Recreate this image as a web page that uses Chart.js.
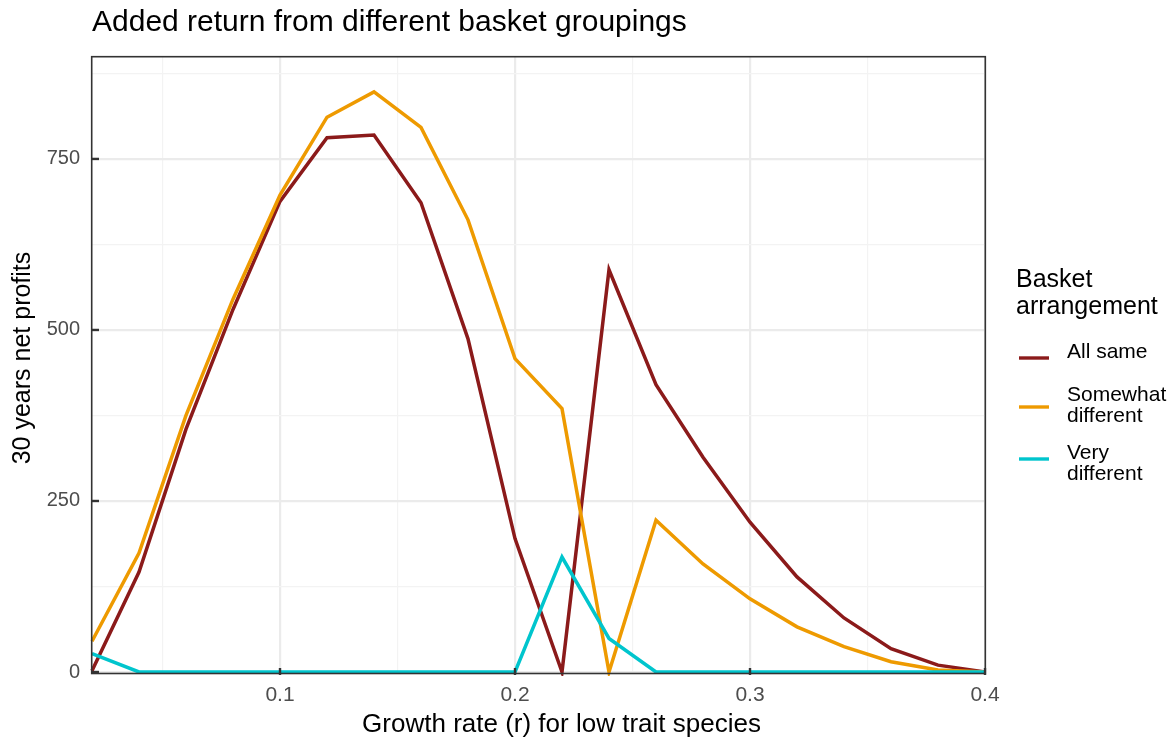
<!DOCTYPE html>
<html>
<head>
<meta charset="utf-8">
<script src="https://cdn.jsdelivr.net/npm/chart.js@4.4.1/dist/chart.umd.min.js"></script>
<style>
  html, body { margin: 0; padding: 0; background: #ffffff; }
  #wrap { width: 1175px; height: 738px; position: relative; }
</style>
</head>
<body>
<div id="wrap"><canvas id="c" width="1175" height="738"></canvas></div>
<script>
// ---- data ----
const growthRates = [0.02, 0.04, 0.06, 0.08, 0.10, 0.12, 0.14, 0.16, 0.18, 0.20,
                     0.22, 0.24, 0.26, 0.28, 0.30, 0.32, 0.34, 0.36, 0.38, 0.40];
const allSame = [2, 146, 355, 530, 688, 781, 785, 686, 487, 195,
                 0, 588, 420, 314, 219, 139, 79, 34, 10, 0];
const somewhatDifferent = [45, 174, 375, 545, 697, 811, 848, 796, 661, 458,
                           385, 0, 222, 158, 107, 66, 37, 15, 3, 0];
const veryDifferent = [27, 0, 0, 0, 0, 0, 0, 0, 0, 0,
                       168, 49, 0, 0, 0, 0, 0, 0, 0, 0];
const seriesNames = ['All same', 'Somewhat\ndifferent', 'Very\ndifferent'];
const seriesColors = ['#8B1A1A', '#EE9A00', '#00C5CD'];
const xGridTicks = [0.05, 0.10, 0.15, 0.20, 0.25, 0.30, 0.35, 0.40];
const xLabelTicks = [0.1, 0.2, 0.3, 0.4];
const yGridTicks = [0, 125, 250, 375, 500, 625, 750, 875];
const yLabelTicks = [0, 250, 500, 750];
const titleText = 'Added return from different basket groupings';
const xTitle = 'Growth rate (r) for low trait species';
const yTitle = '30 years net profits';
const legendTitle = ['Basket', 'arrangement'];

// ---- helpers ----
const FONT = '"Liberation Sans", Arial, Helvetica, sans-serif';
const near = (v, arr) => arr.some(a => Math.abs(a - v) < 1e-6);

const makeSeries = (vals) => growthRates.map((x, i) => ({ x: x, y: vals[i] }));

const decor = {
  id: 'decor',
  afterDatasetsDraw(chart) {
    const { ctx, chartArea: a, scales } = chart;
    ctx.save();
    ctx.strokeStyle = '#333333';
    ctx.lineWidth = 1.6;
    ctx.strokeRect(a.left - 0.3, a.top - 0.3, a.right - a.left + 0.6, a.bottom - a.top + 1.8);
    ctx.lineWidth = 2.4;
    xLabelTicks.forEach(v => {
      const px = scales.x.getPixelForValue(v);
      ctx.beginPath(); ctx.moveTo(px, a.bottom - 4); ctx.lineTo(px, a.bottom + 3); ctx.stroke();
    });
    yLabelTicks.forEach(v => {
      const py = scales.y.getPixelForValue(v);
      ctx.beginPath(); ctx.moveTo(a.left, py); ctx.lineTo(a.left + 7, py); ctx.stroke();
    });
    ctx.restore();
  },
  afterDraw(chart) {
    const { ctx, chartArea: a } = chart;
    ctx.save();
    ctx.fillStyle = '#000000';
    ctx.textBaseline = 'alphabetic';
    // main title
    ctx.textAlign = 'left';
    ctx.font = '30px ' + FONT;
    ctx.fillText(titleText, a.left, 31);
    // x axis title
    ctx.textAlign = 'center';
    ctx.font = '26px ' + FONT;
    ctx.fillText(xTitle, 561.5, 732);
    // y axis title
    ctx.save();
    ctx.translate(30, 358);
    ctx.rotate(-Math.PI / 2);
    ctx.font = '25px ' + FONT;
    ctx.fillText(yTitle, 0, 0);
    ctx.restore();
    // legend title
    ctx.textAlign = 'left';
    ctx.font = '25px ' + FONT;
    ctx.fillText(legendTitle[0], 1016, 287);
    ctx.fillText(legendTitle[1], 1016, 314);
    // legend items
    const keyY = [358, 407, 459];
    const firstBase = [357.5, 401, 459];
    ctx.font = '21px ' + FONT;
    chart.data.datasets.forEach((ds, i) => {
      ctx.strokeStyle = ds.borderColor;
      ctx.lineWidth = 3.4;
      ctx.beginPath(); ctx.moveTo(1019, keyY[i]); ctx.lineTo(1049, keyY[i]); ctx.stroke();
      ctx.fillStyle = '#000000';
      ds.label.split('\n').forEach((line, j) => {
        ctx.fillText(line, 1067, firstBase[i] + j * 21);
      });
    });
    ctx.restore();
  }
};

new Chart(document.getElementById('c'), {
  type: 'line',
  data: {
    datasets: [
      { label: seriesNames[0], data: makeSeries(allSame), borderColor: seriesColors[0], order: 3 },
      { label: seriesNames[1], data: makeSeries(somewhatDifferent), borderColor: seriesColors[1], order: 2 },
      { label: seriesNames[2], data: makeSeries(veryDifferent), borderColor: seriesColors[2], order: 1 }
    ]
  },
  options: {
    responsive: false,
    animation: false,
    devicePixelRatio: 1,
    layout: { padding: { left: 0, right: 190, top: 57, bottom: 0 } },
    elements: {
      line: { borderWidth: 3.5, tension: 0, fill: false, borderJoinStyle: 'miter', borderCapStyle: 'butt' },
      point: { radius: 0, hoverRadius: 0 }
    },
    datasets: { line: { clip: 4 } },
    plugins: {
      legend: { display: false },
      title: { display: false },
      tooltip: { enabled: false }
    },
    scales: {
      x: {
        type: 'linear',
        min: 0.02,
        max: 0.4,
        afterBuildTicks: (s) => { s.ticks = xGridTicks.map(v => ({ value: v })); },
        afterFit: (s) => { s.height = 66; },
        border: { display: false },
        grid: {
          drawTicks: false,
          color: (c) => (c.tick && near(c.tick.value, xLabelTicks)) ? '#EBEBEB' : '#F3F3F3',
          lineWidth: (c) => (c.tick && near(c.tick.value, xLabelTicks)) ? 2.2 : 1.2
        },
        ticks: {
          autoSkip: false,
          maxRotation: 0,
          padding: 11,
          color: '#4D4D4D',
          font: { family: FONT, size: 21 },
          callback: (v) => near(v, xLabelTicks) ? String(Math.round(v * 10) / 10) : ''
        },
        title: { display: false, text: xTitle }
      },
      y: {
        type: 'linear',
        min: 0,
        max: 899,
        afterBuildTicks: (s) => { s.ticks = yGridTicks.map(v => ({ value: v })); },
        afterFit: (s) => { s.width = 92; },
        border: { display: false },
        grid: {
          drawTicks: false,
          color: (c) => (c.tick && near(c.tick.value, yLabelTicks)) ? '#EBEBEB' : '#F3F3F3',
          lineWidth: (c) => (c.tick && near(c.tick.value, yLabelTicks)) ? 2.2 : 1.2
        },
        ticks: {
          autoSkip: false,
          padding: 12,
          color: '#4D4D4D',
          font: { family: FONT, size: 20 },
          callback: (v) => near(v, yLabelTicks) ? String(v) : ''
        },
        title: { display: false, text: yTitle }
      }
    }
  },
  plugins: [decor]
});
</script>
</body>
</html>
